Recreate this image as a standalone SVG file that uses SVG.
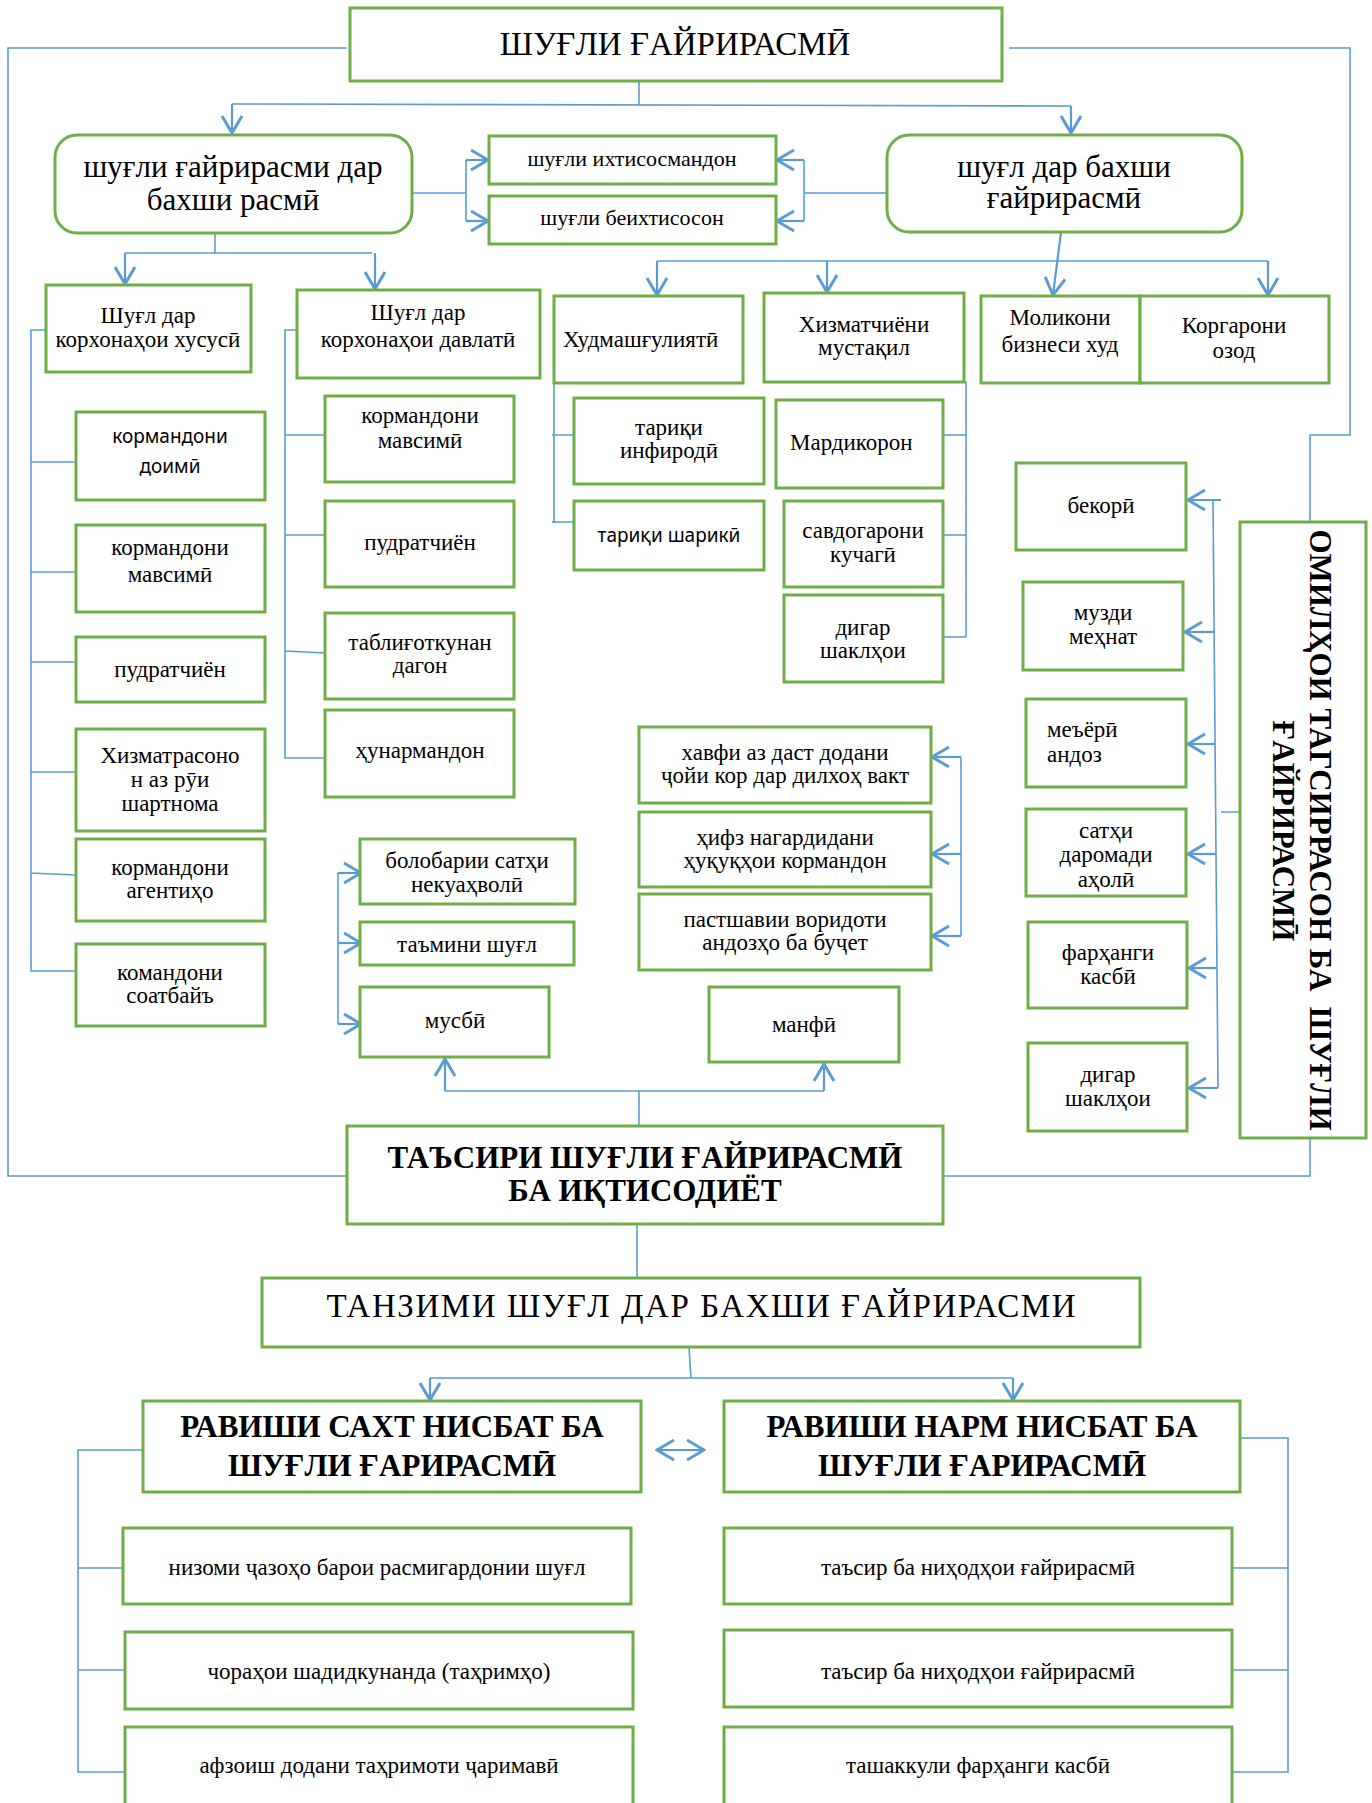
<svg xmlns="http://www.w3.org/2000/svg" width="1372" height="1803" viewBox="0 0 1372 1803">
<style>
.b{fill:#fff;stroke:#70AD47;stroke-width:3}
.t{font-family:"Liberation Serif","DejaVu Serif",serif;font-size:23px;fill:#000;text-anchor:middle}
.s{font-family:"Noto Sans","Open Sans","DejaVu Sans",sans-serif;font-size:19px;fill:#000;text-anchor:middle}
.l{text-anchor:start}
.h{font-size:31px}
.bd{font-weight:bold}
.c{fill:none;stroke:#5B9BD5;stroke-width:1.6}
.a{fill:none;stroke:#5B9BD5;stroke-width:2.2;marker-end:url(#ar)}
.sm{font-size:23px}
.m{font-size:22px}
</style>
<defs>
<marker id="ar" viewBox="0 0 20 24" refX="18" refY="12" markerWidth="20" markerHeight="24" markerUnits="userSpaceOnUse" orient="auto">
<path d="M1,2 L18,12 L1,22" fill="none" stroke="#5B9BD5" stroke-width="3"/>
</marker>
<marker id="as" viewBox="0 0 20 24" refX="2" refY="12" markerWidth="20" markerHeight="24" markerUnits="userSpaceOnUse" orient="auto">
<path d="M19,2 L2,12 L19,22" fill="none" stroke="#5B9BD5" stroke-width="3"/>
</marker>
<clipPath id="clipSat"><rect x="1026" y="809" width="160" height="86"/></clipPath>
</defs>

<g id="connectors">
<path class="c" d="M347,48 H8 V1176 H347"/>
<path class="c" d="M1009,48 H1350 V435 H1310 V522"/>
<path class="c" d="M1310,1138 V1176 H942"/>
<path class="c" d="M639,81 V105 M232,104 L1071,106"/>
<path class="a" d="M232,104 V133"/>
<path class="a" d="M1071,106 V133"/>
<path class="c" d="M412,193 H466 M466,160 V221"/>
<path class="a" d="M466,160 H488"/>
<path class="a" d="M466,221 H488"/>
<path class="c" d="M887,193 H804 M804,160 V221"/>
<path class="a" d="M804,160 H777"/>
<path class="a" d="M804,221 H777"/>
<path class="c" d="M215,233 V253 M125,253 H372"/>
<path class="a" d="M125,253 V284"/>
<path class="a" d="M375,253 V289"/>
<path class="c" d="M46,330 H31 V971 H76 M31,462 H76 M31,572 H76 M31,662 H76 M31,772 H76 M31,873 L76,875"/>
<path class="c" d="M297,330 H285 V758 H325 M285,435 H325 M285,535 H325 M285,651 L325,653"/>
<path class="a" d="M1061,232 L1053,295"/>
<path class="c" d="M657,261 H1268"/>
<path class="a" d="M657,261 V295"/>
<path class="a" d="M827,261 V292"/>
<path class="a" d="M1268,261 V295"/>
<path class="c" d="M554,383 V523 M552,435 H574 M552,522 H574"/>
<path class="c" d="M964,382 H966 V637 M966,435 H943 M966,535 H943 M966,637 H943"/>
<path class="c" d="M1240,812 H1221 M1213,500 L1218,1088"/>
<path class="a" d="M1221,500 H1188"/>
<path class="a" d="M1214,632 H1185"/>
<path class="a" d="M1215,744 H1188"/>
<path class="a" d="M1216,854 H1188"/>
<path class="a" d="M1217,968 H1189"/>
<path class="a" d="M1218,1088 H1189"/>
<path class="c" d="M338,873 V1024"/>
<path class="a" d="M338,873 H361"/>
<path class="a" d="M338,943 H361"/>
<path class="a" d="M338,1024 H361"/>
<path class="c" d="M961,757 V936"/>
<path class="a" d="M961,757 H932"/>
<path class="a" d="M961,854 H932"/>
<path class="a" d="M961,936 H932"/>
<path class="c" d="M639,1126 V1091 M445,1091 H824"/>
<path class="a" d="M445,1091 V1059"/>
<path class="a" d="M824,1091 V1064"/>
<path class="c" d="M637,1224 V1278"/>
<path class="c" d="M689,1347 L691,1378 M430,1378 H1013"/>
<path class="a" d="M430,1378 V1400"/>
<path class="a" d="M1013,1378 V1400"/>
<path class="a" d="M657,1450 H704" marker-start="url(#as)"/>
<path class="c" d="M143,1450 H78 V1772 H125 M78,1568 H123 M78,1670 H125"/>
<path class="c" d="M1240,1438 H1288 V1772 H1233 M1233,1568 H1288 M1233,1670 H1288"/>
</g>

<g id="n_title"><rect class="b" x="350" y="8" width="652" height="73"/><text class="t" x="675" y="55" style="font-size:33px">ШУҒЛИ ҒАЙРИРАСМӢ</text></g>
<g id="n_formal"><rect class="b" x="55" y="135" width="357" height="98" rx="22"/><text class="t" x="233" y="177" style="font-size:31px">шуғли ғайрирасми дар</text><text class="t" x="233" y="210" style="font-size:31px">бахши расмӣ</text></g>
<g id="n_informal"><rect class="b" x="887" y="135" width="355" height="97" rx="22"/><text class="t" x="1064" y="177" style="font-size:31px">шуғл дар бахши</text><text class="t" x="1064" y="208" style="font-size:31px">ғайрирасмӣ</text></g>
<g id="n_spec"><rect class="b" x="489" y="136" width="287" height="48"/><text class="t m" x="632" y="166">шуғли ихтисосмандон</text></g>
<g id="n_nonspec"><rect class="b" x="489" y="196" width="287" height="48"/><text class="t m" x="632" y="225">шуғли беихтисосон</text></g>

<g id="n_private"><rect class="b" x="46" y="285" width="205" height="87"/><text class="t" x="148" y="323">Шуғл дар</text><text class="t" x="148" y="347">корхонаҳои хусусӣ</text></g>
<g id="n_state"><rect class="b" x="297" y="290" width="243" height="88"/><text class="t" x="418" y="320">Шуғл дар</text><text class="t" x="418" y="347">корхонаҳои давлатӣ</text></g>

<g id="n_perm"><rect class="b" x="76" y="412" width="189" height="88"/><text class="s" x="170" y="443">кормандони</text><text class="s" x="170" y="473">доимӣ</text></g>
<g id="n_seas1"><rect class="b" x="76" y="525" width="189" height="87"/><text class="t" x="170" y="555">кормандони</text><text class="t" x="170" y="582">мавсимӣ</text></g>
<g id="n_contr1"><rect class="b" x="76" y="637" width="189" height="65"/><text class="t" x="170" y="677">пудратчиён</text></g>
<g id="n_serv"><rect class="b" x="76" y="729" width="189" height="102"/><text class="t" x="170" y="763">Хизматрасоно</text><text class="t" x="170" y="787">н аз рӯи</text><text class="t" x="170" y="811">шартнома</text></g>
<g id="n_agent"><rect class="b" x="76" y="839" width="189" height="82"/><text class="t" x="170" y="875">кормандони</text><text class="t" x="170" y="898">агентиҳо</text></g>
<g id="n_hour"><rect class="b" x="76" y="944" width="189" height="82"/><text class="t" x="170" y="980">командони</text><text class="t" x="170" y="1003">соатбайъ</text></g>

<g id="n_seas2"><rect class="b" x="325" y="396" width="189" height="86"/><text class="t" x="420" y="423">кормандони</text><text class="t" x="420" y="448">мавсимӣ</text></g>
<g id="n_contr2"><rect class="b" x="325" y="501" width="189" height="86"/><text class="t" x="420" y="550">пудратчиён</text></g>
<g id="n_adv"><rect class="b" x="325" y="613" width="189" height="86"/><text class="t" x="420" y="650">таблиғоткунан</text><text class="t" x="420" y="673">дагон</text></g>
<g id="n_craft"><rect class="b" x="325" y="710" width="189" height="87"/><text class="t" x="420" y="758">ҳунармандон</text></g>

<g id="n_self"><rect class="b" x="554" y="296" width="189" height="87"/><text class="t l" x="563" y="347">Худмашғулиятӣ</text></g>
<g id="n_indep"><rect class="b" x="764" y="293" width="200" height="89"/><text class="t" x="864" y="332">Хизматчиёни</text><text class="t" x="864" y="355">мустақил</text></g>
<g id="n_owners"><rect class="b" x="981" y="296" width="159" height="87"/><text class="t" x="1060" y="325">Моликони</text><text class="t" x="1060" y="352">бизнеси худ</text></g>
<g id="n_free"><rect class="b" x="1140" y="296" width="189" height="87"/><text class="t" x="1234" y="333">Коргарони</text><text class="t" x="1234" y="358">озод</text></g>

<g id="n_indiv"><rect class="b" x="574" y="398" width="190" height="86"/><text class="t" x="669" y="435">тариқи</text><text class="t" x="669" y="458">инфиродӣ</text></g>
<g id="n_partner"><rect class="b" x="574" y="501" width="190" height="69"/><text class="s" x="669" y="542">тариқи шарикӣ</text></g>
<g id="n_day"><rect class="b" x="776" y="400" width="167" height="88"/><text class="t l" x="790" y="450">Мардикорон</text></g>
<g id="n_street"><rect class="b" x="784" y="501" width="159" height="86"/><text class="t" x="863" y="538">савдогарони</text><text class="t" x="863" y="562">кучагӣ</text></g>
<g id="n_other1"><rect class="b" x="784" y="595" width="159" height="87"/><text class="t" x="863" y="635">дигар</text><text class="t" x="863" y="658">шаклҳои</text></g>

<g id="n_unemp"><rect class="b" x="1016" y="463" width="170" height="87"/><text class="t" x="1101" y="513">бекорӣ</text></g>
<g id="n_wage"><rect class="b" x="1023" y="582" width="160" height="88"/><text class="t" x="1103" y="620">музди</text><text class="t" x="1103" y="644">меҳнат</text></g>
<g id="n_tax"><rect class="b" x="1026" y="699" width="160" height="88"/><text class="t l" x="1047" y="737">меъёрӣ</text><text class="t l" x="1047" y="762">андоз</text></g>
<g id="n_income"><rect class="b" x="1026" y="809" width="160" height="87"/><g clip-path="url(#clipSat)"><text class="t" x="1106" y="838">сатҳи</text><text class="t" x="1106" y="862">даромади</text><text class="t" x="1106" y="887">аҳолӣ</text></g></g>
<g id="n_culture"><rect class="b" x="1028" y="922" width="159" height="86"/><text class="t" x="1108" y="960">фарҳанги</text><text class="t" x="1108" y="984">касбӣ</text></g>
<g id="n_other2"><rect class="b" x="1028" y="1043" width="159" height="88"/><text class="t" x="1108" y="1082">дигар</text><text class="t" x="1108" y="1106">шаклҳои</text></g>

<g id="n_factors"><rect class="b" x="1240" y="522" width="126" height="616"/><g transform="rotate(90)"><text class="t bd h" x="830" y="-1310" xml:space="preserve">ОМИЛҲОИ ТАГСИРРАСОН БА  ШУҒЛИ</text><text class="t bd h" x="831" y="-1273">ҒАЙРИРАСМӢ</text></g></g>

<g id="n_welfare"><rect class="b" x="360" y="839" width="215" height="65"/><text class="t" x="467" y="868">болобарии сатҳи</text><text class="t" x="467" y="892">некуаҳволӣ</text></g>
<g id="n_jobs"><rect class="b" x="360" y="922" width="214" height="43"/><text class="t" x="467" y="952">таъмини шуғл</text></g>
<g id="n_pos"><rect class="b" x="360" y="987" width="189" height="70"/><text class="t" x="455" y="1028">мусбӣ</text></g>
<g id="n_neg"><rect class="b" x="709" y="987" width="190" height="75"/><text class="t" x="804" y="1032">манфӣ</text></g>
<g id="n_risk"><rect class="b" x="639" y="727" width="292" height="76"/><text class="t" x="785" y="760">хавфи аз даст додани</text><text class="t" x="785" y="783">ҷойи кор дар дилхоҳ вакт</text></g>
<g id="n_rights"><rect class="b" x="639" y="812" width="292" height="75"/><text class="t" x="785" y="845">ҳифз нагардидани</text><text class="t" x="785" y="868">ҳуқуқҳои кормандон</text></g>
<g id="n_budget"><rect class="b" x="639" y="894" width="292" height="76"/><text class="t" x="785" y="927">пастшавии воридоти</text><text class="t" x="785" y="950">андозҳо ба буҷет</text></g>

<g id="n_impact"><rect class="b" x="347" y="1126" width="596" height="98"/><text class="t bd" x="645" y="1168" style="font-size:31px">ТАЪСИРИ ШУҒЛИ ҒАЙРИРАСМӢ</text><text class="t bd" x="645" y="1201" style="font-size:31px">БА ИҚТИСОДИЁТ</text></g>
<g id="n_reg"><rect class="b" x="262" y="1278" width="878" height="69"/><text class="t" x="701" y="1317" style="font-size:33px" textLength="749" lengthAdjust="spacing">ТАНЗИМИ ШУҒЛ ДАР БАХШИ ҒАЙРИРАСМИ</text></g>
<g id="n_hard"><rect class="b" x="143" y="1401" width="498" height="91"/><text class="t bd h" x="392" y="1437">РАВИШИ САХТ НИСБАТ БА</text><text class="t bd h" x="392" y="1476">ШУҒЛИ ҒАРИРАСМӢ</text></g>
<g id="n_soft"><rect class="b" x="724" y="1401" width="516" height="91"/><text class="t bd h" x="982" y="1437">РАВИШИ НАРМ НИСБАТ БА</text><text class="t bd h" x="982" y="1476">ШУҒЛИ ҒАРИРАСМӢ</text></g>

<g id="n_h1"><rect class="b" x="123" y="1528" width="508" height="76"/><text class="t sm" x="377" y="1575">низоми ҷазоҳо барои расмигардонии шуғл</text></g>
<g id="n_h2"><rect class="b" x="125" y="1632" width="508" height="77"/><text class="t sm" x="379" y="1679">чораҳои шадидкунанда (таҳримҳо)</text></g>
<g id="n_h3"><rect class="b" x="125" y="1727" width="508" height="90"/><text class="t sm" x="379" y="1773">афзоиш додани таҳримоти ҷаримавӣ</text></g>
<g id="n_s1"><rect class="b" x="724" y="1528" width="508" height="76"/><text class="t sm" x="978" y="1575">таъсир ба ниҳодҳои ғайрирасмӣ</text></g>
<g id="n_s2"><rect class="b" x="724" y="1630" width="508" height="77"/><text class="t sm" x="978" y="1679">таъсир ба ниҳодҳои ғайрирасмӣ</text></g>
<g id="n_s3"><rect class="b" x="724" y="1727" width="508" height="90"/><text class="t sm" x="978" y="1773">ташаккули фарҳанги касбӣ</text></g>
</svg>
